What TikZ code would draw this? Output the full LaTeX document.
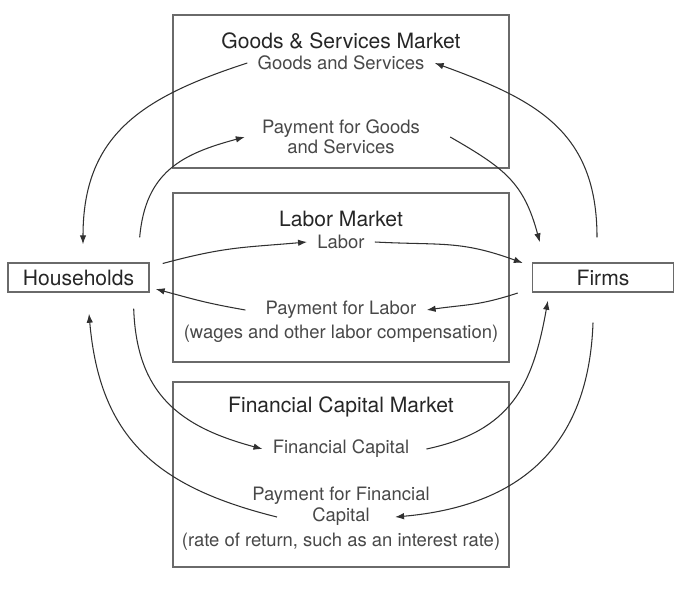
\documentclass[tikz,border=0pt]{standalone}
\usepackage{fontspec}
\setmainfont{TeX Gyre Heros}
\usetikzlibrary{positioning,arrows.meta}
\definecolor{boxgray}{HTML}{6A6A6A}
\definecolor{inkgray}{HTML}{303030}
\definecolor{titlegray}{HTML}{262626}
\definecolor{labelgray}{HTML}{484848}
\tikzset{
  flowarrow/.style={-{Latex[length=1.8mm,width=1.3mm]}, draw=inkgray, line width=0.6pt, looseness=1.15},
  marketbox/.style={draw=boxgray, line width=0.8pt, minimum width=6.72cm},
  agentbox/.style={draw=boxgray, line width=0.8pt, minimum width=2.82cm, minimum height=0.58cm, font=\fontsize{12}{14}\selectfont, text=titlegray},
  markettitle/.style={font=\fontsize{12}{14}\selectfont, text=titlegray, inner sep=1pt},
  flowlabel/.style={font=\fontsize{10.5}{11.4}\selectfont, text=labelgray, align=center, inner ysep=1pt, inner xsep=0.2cm}
}

\begin{document}
\begin{tikzpicture}[x=0.02cm, y=-0.02cm]
  \useasboundingbox (0,0) rectangle (688,588);
  % markets
  \node[marketbox, minimum height=3.06cm] (gsm) at (341,91.5) {};
  \node[marketbox, minimum height=3.38cm] (lm) at (341,277.5) {};
  \node[marketbox, minimum height=3.7cm] (fcm) at (341,474.5) {};
  \node[markettitle] (gsmtitle) at (341,41) {Goods \& Services Market};
  \node[markettitle] (lmtitle) at (341,219) {Labor Market};
  \node[markettitle] (fcmtitle) at (341,407) {Financial Capital Market};
  % households and firms
  \node[agentbox] (hh) at (78.5,277.5) {Households};
  \node[agentbox] (firms) at (603,277.5) {Firms};
  % flow labels
  \node[flowlabel] (gs) at (341,63) {Goods and Services};
  \node[flowlabel] (pg) at (341,137) {Payment for Goods\\and Services};
  \node[flowlabel] (lab) at (341,242) {Labor};
  \node[flowlabel] (pl) at (341,310) {Payment for Labor};
  \node[flowlabel] (plnote) at (341,334) {(wages and other labor compensation)};
  \node[flowlabel] (fc) at (341,449) {Financial Capital};
  \node[flowlabel] (pfc) at (341,496) {Payment for Financial};
  \node[flowlabel] (pfcap) at (341,517) {Capital};
  \node[flowlabel] (pfcnote) at (341,542) {(rate of return, such as an interest rate)};

  % goods and services market
  \draw[flowarrow] ([xshift=-0.12cm,yshift=0.5cm]firms.north) to[out=90,in=-20] (gs.east);
  \draw[flowarrow] (gs.west) to[out=198,in=90] ([xshift=0.09cm,yshift=0.36cm]hh.north);
  \draw[flowarrow] ([xshift=-0.2cm,yshift=0.5cm]hh.north east) to[out=85,in=195] ([xshift=-0.14cm]pg.west);
  \draw[flowarrow] ([xshift=0.4cm]pg.east) to[out=-30,in=105] ([xshift=0.16cm,yshift=0.4cm]firms.north west);
  % labor market
  \draw[flowarrow] ([xshift=0.26cm,yshift=0.28cm]hh.east) to[out=15,in=185] (lab.west);
  \draw[flowarrow] (lab.east) to[out=-3,in=160] ([xshift=-0.18cm,yshift=0.29cm]firms.west);
  \draw[flowarrow] ([xshift=-0.28cm,yshift=-0.31cm]firms.west) to[out=198,in=8] (pl.east);
  \draw[flowarrow] ([xshift=-0.2cm]pl.west) to[out=170,in=-15] ([xshift=0.12cm,yshift=-0.23cm]hh.east);
  % financial capital market
  \draw[flowarrow] ([xshift=-0.32cm,yshift=-0.32cm]hh.south east) to[out=-88,in=165] (fc.west);
  \draw[flowarrow] ([xshift=0.14cm]fc.east) to[out=12,in=-100] ([xshift=0.32cm,yshift=-0.16cm]firms.south west);
  \draw[flowarrow] ([xshift=-0.2cm,yshift=-0.6cm]firms.south) to[out=-92,in=5] ([xshift=0.3cm]pfcap.east);
  \draw[flowarrow] ([xshift=-0.5cm]pfcap.west) to[out=166,in=-85] ([xshift=0.21cm,yshift=-0.42cm]hh.south);
\end{tikzpicture}
\end{document}
